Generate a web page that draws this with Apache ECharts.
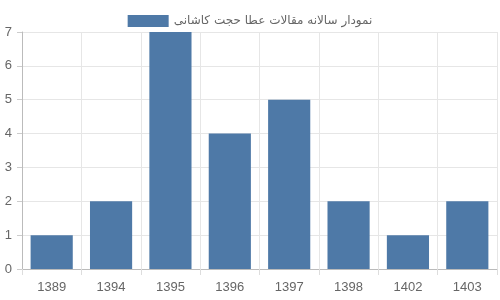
<!DOCTYPE html>
<html><head><meta charset="utf-8">
<script src="https://cdn.jsdelivr.net/npm/echarts@6/dist/echarts.min.js"></script>
<style>html,body{margin:0;padding:0;background:#fff}#c{width:500px;height:300px}</style>
</head><body><div id="c"></div>
<script>
const categories = ['1389','1394','1395','1396','1397','1398','1402','1403'];
const values = [1,2,7,4,5,2,1,2];
const seriesName = 'نمودار سالانه مقالات عطا حجت کاشانی';
const yTicks = [0,1,2,3,4,5,6,7];

const chart = echarts.init(document.getElementById('c'), null, {renderer:'canvas'});
chart.setOption({
  animation:false,
  textStyle:{fontFamily:'Liberation Sans, Arial, sans-serif'},
  legend:{
    top:10, left:'center', itemWidth:41, itemHeight:12, itemGap:6, icon:'rect',
    textStyle:{color:'#666', fontSize:12, fontFamily:'DejaVu Sans, sans-serif'},
    data:[seriesName]
  },
  grid:{left:22, right:3, top:32, bottom:31, containLabel:false},
  xAxis:{
    type:'category', data:categories, boundaryGap:true,
    axisLine:{show:true, lineStyle:{color:'#bbb'}},
    axisTick:{show:true, length:6, lineStyle:{color:'#ddd'}},
    axisLabel:{color:'#666', fontSize:13, margin:12},
    splitLine:{show:true, lineStyle:{color:'#e6e6e6'}}
  },
  yAxis:{
    type:'value', min:yTicks[0], max:yTicks[yTicks.length-1], interval:1,
    axisLine:{show:true, lineStyle:{color:'#bbb'}},
    axisTick:{show:true, length:5, lineStyle:{color:'#ccc'}},
    axisLabel:{color:'#666', fontSize:13, margin:10},
    splitLine:{show:true, lineStyle:{color:'#e6e6e6'}}
  },
  series:[{
    name:seriesName, type:'bar', data:values, barCategoryGap:'29%',
    itemStyle:{color:'#4e79a7'}
  }]
});
</script></body></html>
